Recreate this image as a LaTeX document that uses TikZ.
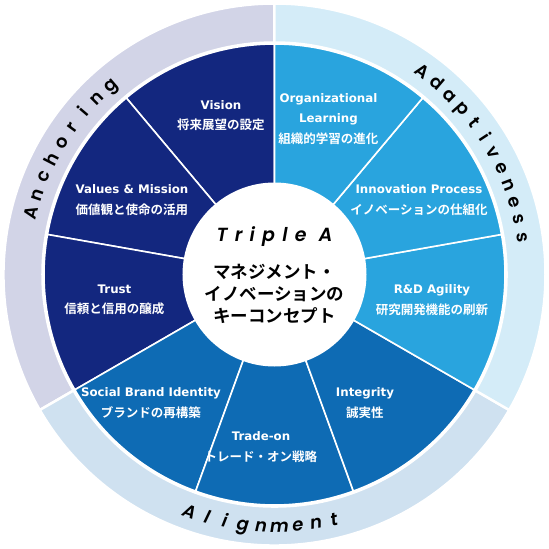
\documentclass[tikz,border=0pt]{standalone}
\usepackage{fontspec}
\setmainfont{DejaVu Sans}
\newfontfamily\jpfont{Noto Sans CJK JP}[BoldFont={Noto Sans CJK JP Bold}]
\newfontfamily\ringfont{Poppins}[BoldFont={Poppins SemiBold}, BoldItalicFont={Poppins SemiBold Italic}]
\usepackage{xcolor}
\definecolor{navy}{HTML}{13277F}
\definecolor{midblue}{HTML}{0E6BB4}
\definecolor{skyblue}{HTML}{29A4DE}
\definecolor{ringnavy}{HTML}{D2D4E7}
\definecolor{ringmid}{HTML}{CFE1F0}
\definecolor{ringsky}{HTML}{D4ECF8}
\newcommand{\jp}[1]{{\jpfont\fontsize{12.5}{20.5}\selectfont #1}}

\begin{document}
\begin{tikzpicture}[x=1pt, y=1pt,
            seg/.style={draw=white, line width=1.6pt},
            ringseg/.style={draw=white, line width=2.5pt},
            seglabel/.style={text=white, align=center, inner sep=0pt, font=\bfseries\fontsize{11.8}{20.5}\selectfont},
            ringletter/.style={anchor=base, inner sep=0pt, font=\ringfont\bfseries\fontsize{18}{18}\selectfont}]
        \useasboundingbox (-274.5,-274.5) rectangle (274.5,274.5);

        % outer ring
        \foreach \a/\col in {90/ringnavy, 210/ringmid, 330/ringsky}
            \filldraw[ringseg, fill=\col] (\a:232) arc[start angle=\a, delta angle=120, radius=232]
                -- (\a+120:271) arc[start angle=\a+120, delta angle=-120, radius=271] -- cycle;

        % wheel
        \foreach \a/\col in {90/navy, 130/navy, 170/navy, 210/midblue, 250/midblue, 290/midblue, 330/skyblue, 10/skyblue, 50/skyblue}
            \filldraw[seg, fill=\col] (0,0) -- (\a:230.5) arc[start angle=\a, delta angle=40, radius=230.5] -- cycle;

        \node[circle, fill=white, minimum size=184pt, inner sep=0pt] (hub) at (0,0) {};
        \node[font=\ringfont\bfseries\itshape\fontsize{19}{19}\selectfont\addfontfeature{LetterSpace=38}] (title) at (0,37.5) {Triple A};
        \node[align=center, font=\jpfont\bfseries\fontsize{17.5}{22}\selectfont] (concept) at (0,-19.5) {マネジメント・\\イノベーションの\\キーコンセプト};

        \node[seglabel] (vision) at (-53.5,159) {Vision\\\jp{将来展望の設定}};
        \node[seglabel] (values) at (-142.5,74.5) {Values \& Mission\\\jp{価値観と使命の活用}};
        \node[seglabel] (trust) at (-160,-25.5) {Trust\\\jp{信頼と信用の醸成}};
        \node[seglabel] (brand) at (-123.5,-128.5) {Social Brand Identity\\\jp{ブランドの再構築}};
        \node[seglabel] (tradeon) at (-13.5,-172.5) {Trade-on\\\jp{トレード・オン戦略}};
        \node[seglabel] (integrity) at (90.5,-128.5) {Integrity\\\jp{誠実性}};
        \node[seglabel] (agility) at (157.5,-25.5) {R\&D Agility\\\jp{研究開発機能の刷新}};
        \node[seglabel] (process) at (144.5,74.5) {Innovation Process\\\jp{イノベーションの仕組化}};
        \node[seglabel] (learning) at (54,155.5) {Organizational\\Learning\\\jp{組織的学習の進化}};

        % ring letters
        \foreach \ch [count=\i, evaluate=\i as \t using 165.8-4.375*(\i-1)] in {A,n,c,h,o,r,i,n,g}
            \node[ringletter, rotate=\t-90] (anc\i) at (\t:245) {\ch};
        \foreach \ch [count=\i, evaluate=\i as \t using 53.8-4.11*(\i-1)] in {A,d,a,p,t,i,v,e,n,e,s,s}
            \node[ringletter, rotate=\t-90] (ada\i) at (\t:245) {\ch};
        \foreach \ch [count=\i, evaluate=\i as \t using 250.3+4.17*(\i-1)] in {A,l,i,g,n,m,e,n,t}
            \node[ringletter, font=\ringfont\bfseries\itshape\fontsize{18}{18}\selectfont, rotate=\t+90] (ali\i) at (\t:258) {\ch};
\end{tikzpicture}
\end{document}
